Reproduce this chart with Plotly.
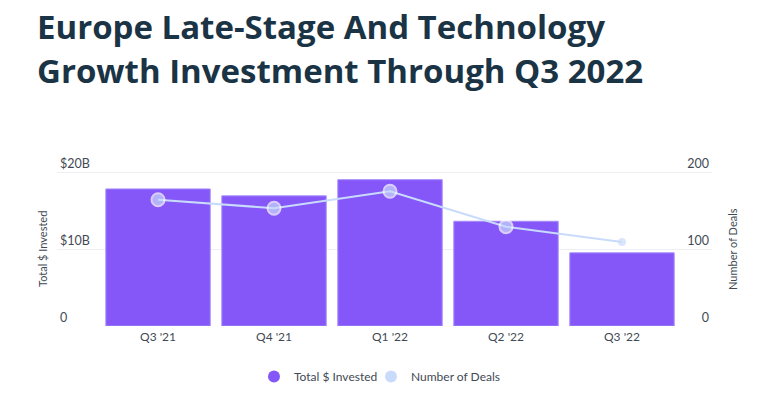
import plotly.graph_objects as go

quarters = ["Q3 '21", "Q4 '21", "Q1 '22", "Q2 '22", "Q3 '22"]
invested_b = [17.8, 16.9, 19.0, 13.6, 9.5]
deals = [164, 153, 175, 129, 109]
y_left_ticks = [0, 10, 20]
y_left_labels = ["0", "$10B", "$20B"]
y_right_ticks = [0, 100, 200]
title_lines = ["Europe Late-Stage And Technology", "Growth Investment Through Q3 2022"]

PURPLE = "#8557F9"
LIGHT = "#C9DBFB"
FONT = "Lato"
TXT = "#3f4a55"

W, H = 768, 400
L, R, T, B = 57, 712, 150, 326
PW, PH = R - L, B - T
top_scale = 20 * PH / (326 - 172)


def px(xw):
    return (xw - L) / PW


def py(yw):
    return (B - yw) / PH


fig = go.Figure()
fig.add_trace(go.Bar(
    x=quarters, y=invested_b, marker=dict(color=PURPLE, line=dict(color="#A78CFB", width=1)),
    width=0.9, showlegend=False, yaxis="y"))
fig.add_trace(go.Scatter(
    x=quarters, y=deals, mode="lines+markers", yaxis="y2", showlegend=False,
    line=dict(color=LIGHT, width=2),
    marker=dict(size=[13, 13, 13, 13, 8], color=LIGHT,
                line=dict(color="white", width=[2, 2, 2, 2, 0]))))
fig.add_trace(go.Scatter(x=[None], y=[None], mode="markers", name="Total $ Invested",
                         legend="legend", marker=dict(color=PURPLE, size=15, symbol="circle")))
fig.add_trace(go.Scatter(x=[None], y=[None], mode="markers", name="Number of Deals",
                         legend="legend2", marker=dict(color=LIGHT, size=15, symbol="circle")))

legend_common = dict(orientation="h", xanchor="left", y=py(362), yanchor="top",
                     font=dict(size=12, color=TXT), itemsizing="constant",
                     bgcolor="rgba(0,0,0,0)")

fig.update_layout(
    width=W, height=H,
    margin=dict(l=L, r=W - R, t=T, b=H - B, autoexpand=False),
    paper_bgcolor="white", plot_bgcolor="white",
    font=dict(family=FONT, color=TXT, size=12),
    xaxis=dict(type="category", range=[-0.871, 4.776], showgrid=False, zeroline=False,
               showline=False, ticks="", automargin=False, ticklabelstandoff=2,
               tickfont=dict(size=12, color=TXT)),
    yaxis=dict(range=[0, top_scale], tickvals=y_left_ticks, ticktext=y_left_labels,
               ticklabelposition="inside top", showgrid=True, gridcolor="#EDEFF2",
               gridwidth=1, zeroline=False, showline=False, automargin=False,
               tickfont=dict(size=12.5, color=TXT)),
    yaxis2=dict(range=[0, top_scale * 10], tickvals=y_right_ticks, overlaying="y", side="right",
                ticklabelposition="inside top", showgrid=False, zeroline=False,
                showline=False, automargin=False, tickfont=dict(size=12.5, color=TXT)),
    legend=dict(x=px(254), **legend_common),
    legend2=dict(x=px(371), **legend_common),
    bargap=0.1,
)

fig.add_annotation(text="Total $ Invested", textangle=-90, xref="paper", yref="paper",
                   x=px(42), y=py(249), xanchor="center", yanchor="middle", showarrow=False,
                   font=dict(size=11, color=TXT))
fig.add_annotation(text="Number of Deals", textangle=-90, xref="paper", yref="paper",
                   x=px(732), y=py(249), xanchor="center", yanchor="middle", showarrow=False,
                   font=dict(size=11, color=TXT))
for i, line in enumerate(title_lines):
    fig.add_annotation(text=line, xref="paper", yref="paper", xanchor="left", yanchor="middle",
                       x=px(35), y=py(26 + 45 * i), showarrow=False,
                       font=dict(family="Open Sans", size=33, color="#1B3445", weight="bold"))

# remove the default 8px page margin so the 768x400 figure fills the window exactly
fig.write_html("out.html", config={"displayModeBar": False},
               post_script="document.body.style.margin='0px';")
